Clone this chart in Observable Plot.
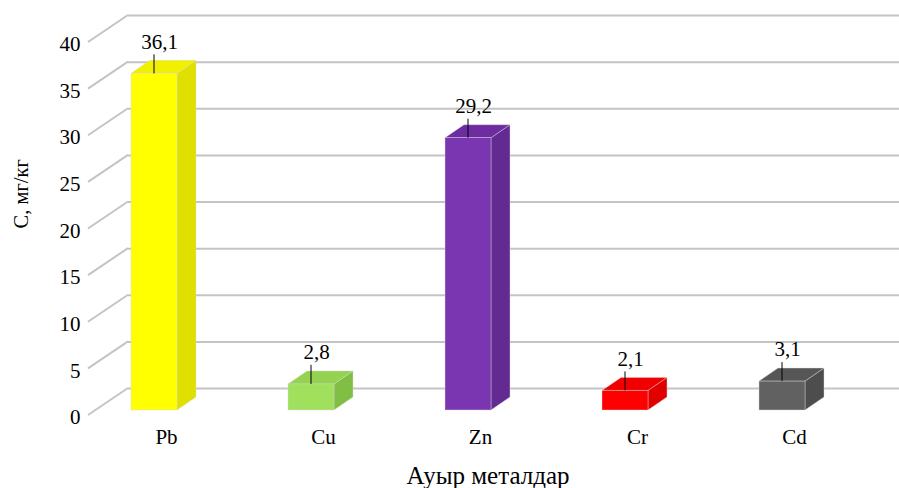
<!DOCTYPE html>
<html>
<head>
<meta charset="utf-8">
<script src="https://cdn.jsdelivr.net/npm/d3@7"></script>
<script src="https://cdn.jsdelivr.net/npm/@observablehq/plot@0.6"></script>
<style>
  html, body { margin: 0; padding: 0; background: #fff; }
  #chart svg { display: block; }
  #chart svg text { font-family: "Liberation Serif", "Times New Roman", serif; }
</style>
</head>
<body>
<div id="chart"></div>
<script>
// Heavy-metal concentrations, mg/kg
const metals = ["Pb", "Cu", "Zn", "Cr", "Cd"];
const concentrations = [36.1, 2.8, 29.2, 2.1, 3.1];
const yTicks = [0, 5, 10, 15, 20, 25, 30, 35, 40];

// Column shading: front, top and side faces
const frontColors = ["#ffff00", "#a0e05c", "#7a35b0", "#ff0000", "#616161"];
const topColors   = ["#f0f000", "#93d350", "#6d2da0", "#f00000", "#565656"];
const sideColors  = ["#e0e000", "#80bf44", "#632a92", "#e00000", "#4d4d4d"];

const rows = metals.map((metal, i) => ({
  metal,
  value: concentrations[i],
  front: frontColors[i],
  top: topColors[i],
  side: sideColors[i]
}));

const fmt = v => v.toFixed(1).replace(".", ",");

// Depth of the 3D box (pixels) and of the floor/back wall
const depthX = 19, depthY = -13;
const wallFront = {dx: -40, dy: 5};   // front edge of the wall diagonals
const wallBack = {dy: -22};           // back wall offset

const font = "Liberation Serif";

// Diagonal side-wall lines joining the tick labels to the back wall
function wallDiagonals(index, scales, values, dimensions) {
  const g = d3.create("svg:g").attr("stroke", "#c4c4c4").attr("stroke-width", 2).attr("fill", "none");
  const xBack = dimensions.marginLeft;
  for (const t of yTicks) {
    const y = scales.y(t);
    g.append("line")
      .attr("x1", xBack + wallFront.dx).attr("y1", y + wallFront.dy)
      .attr("x2", xBack).attr("y2", y + wallBack.dy);
  }
  return g.node();
}

// Top and side faces of each column, drawn from the same scaled positions as the front face
function boxFaces(index, scales, values, dimensions, context, next) {
  const g = next(index, scales, values, dimensions, context);
  const faces = d3.create("svg:g");
  const bw = scales.x.bandwidth ? scales.x.bandwidth() : 46;
  for (const i of index) {
    const d = rows[i];
    const xl = scales.x(d.metal);
    const xr = xl + bw;
    const yt = scales.y(d.value);
    const yb = scales.y(0);
    const side = [[xr, yt], [xr + depthX, yt + depthY], [xr + depthX, yb + depthY], [xr, yb]];
    const top = [[xl, yt], [xl + depthX, yt + depthY], [xr + depthX, yt + depthY], [xr, yt]];
    faces.append("path").attr("d", "M" + side.join("L") + "Z").attr("fill", d.side)
      .attr("stroke", "#d8d8d8").attr("stroke-width", 0.6).attr("stroke-opacity", 0.7);
    faces.append("path").attr("d", "M" + top.join("L") + "Z").attr("fill", d.top)
      .attr("stroke", "#d8d8d8").attr("stroke-width", 0.6).attr("stroke-opacity", 0.7);
  }
  const wrap = d3.create("svg:g");
  wrap.node().appendChild(faces.node());
  wrap.node().appendChild(g);
  return wrap.node();
}

// Leader lines from value labels down to the column tops
function leaders(index, scales) {
  const g = d3.create("svg:g").attr("stroke", "#000").attr("stroke-width", 1);
  const bw = scales.x.bandwidth ? scales.x.bandwidth() : 46;
  for (const d of rows) {
    const cx = scales.x(d.metal) + bw / 2;
    const yt = scales.y(d.value);
    g.append("line").attr("x1", cx).attr("y1", yt - 19).attr("x2", cx).attr("y2", yt);
  }
  return g.node();
}

const textStyle = {fill: "#000", fontFamily: font};

const chart = Plot.plot({
  width: 899,
  height: 488,
  marginLeft: 128,
  marginRight: 0,
  marginTop: 0,
  marginBottom: 0,
  style: {fontFamily: font, background: "#fff", color: "#000"},
  x: {type: "band", domain: metals, range: [130, 805], paddingInner: 0.7075, paddingOuter: 0, axis: null},
  y: {domain: [0, 40], range: [410, 37], axis: null},
  color: {type: "identity"},
  marks: [
    // back wall gridlines
    Plot.ruleY(yTicks, {y: d => d, dy: wallBack.dy, stroke: "#c4c4c4", strokeWidth: 2}),
    wallDiagonals,
    // columns
    Plot.barY(rows, {
      x: "metal", y: "value", fill: "front",
      stroke: "#d8d8d8", strokeWidth: 0.6, strokeOpacity: 0.7,
      render: boxFaces
    }),
    leaders,
    // value labels
    Plot.text(rows, {x: "metal", y: "value", text: d => fmt(d.value), dx: 5, dy: -32, fontSize: 21, ...textStyle}),
    // y tick labels
    Plot.text(yTicks, {y: d => d, text: d => String(d), frameAnchor: "left", dx: -48, dy: 7, textAnchor: "end", fontSize: 21, ...textStyle}),
    // category labels
    Plot.text(rows, {x: "metal", text: "metal", frameAnchor: "bottom", dx: 12, dy: -51, lineAnchor: "middle", fontSize: 21, ...textStyle}),
    // axis titles
    Plot.text(["Ауыр металдар"], {frameAnchor: "bottom", dx: -26, dy: -13, lineAnchor: "middle", fontSize: 25, ...textStyle}),
    Plot.text(["C, мг/кг"], {frameAnchor: "left", dx: -107, dy: -16, rotate: -90, lineAnchor: "middle", fontSize: 20.5, ...textStyle})
  ]
});

document.getElementById("chart").appendChild(chart);
</script>
</body>
</html>
